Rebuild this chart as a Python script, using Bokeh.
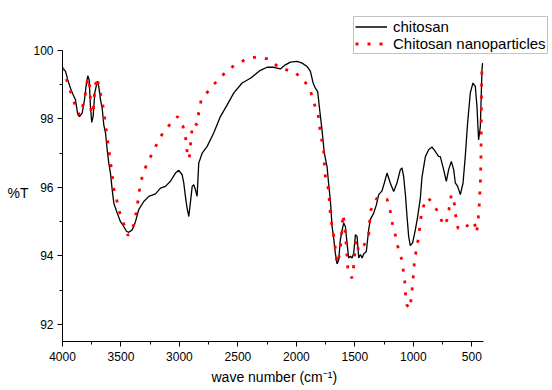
from bokeh.plotting import figure
from bokeh.models import Range1d, FixedTicker, Legend, LegendItem, ColumnDataSource, Title
from bokeh.embed import file_html
from bokeh.resources import INLINE

# chitosan (black solid)
chi_wn = [4000, 3974, 3955, 3932, 3909, 3889, 3869, 3855, 3832, 3812, 3795, 3784, 3772, 3761,
          3750, 3738, 3724, 3703, 3690, 3675, 3661, 3647, 3632, 3618, 3604, 3590, 3575, 3561,
          3532, 3504, 3476, 3453, 3433, 3404, 3376, 3348, 3305, 3262, 3205, 3162, 3120, 3077,
          3034, 3006, 2977, 2963, 2949, 2935, 2920, 2905, 2891, 2878, 2863, 2849, 2835, 2806,
          2763, 2707, 2650, 2592, 2535, 2464, 2393, 2308, 2250, 2194, 2137, 2094, 2051, 1994,
          1951, 1908, 1880, 1857, 1838, 1818, 1801, 1781, 1761, 1738, 1724, 1709, 1695, 1681,
          1667, 1652, 1638, 1624, 1609, 1595, 1581, 1567, 1553, 1538, 1524, 1510, 1495, 1481,
          1467, 1453, 1438, 1424, 1402, 1382, 1368, 1339, 1316, 1296, 1268, 1248, 1225, 1197,
          1168, 1140, 1111, 1097, 1083, 1068, 1054, 1040, 1026, 1006, 983, 963, 940, 926, 897,
          869, 840, 812, 783, 769, 741, 718, 698, 675, 655, 641, 621, 598, 575, 556, 536, 513,
          490, 470, 456, 442, 427, 413, 408]
chi_t = [99.49, 99.39, 99.14, 98.90, 98.71, 98.56, 98.12, 98.07, 98.17, 98.56, 99.05, 99.26, 99.14, 98.37,
         97.90, 98.07, 98.76, 99.10, 98.95, 98.56, 98.32, 97.83, 97.59, 97.10, 96.71, 96.42, 95.93, 95.54,
         95.25, 95.00, 94.86, 94.72, 94.69, 94.76, 95.00, 95.35, 95.59, 95.74, 95.81, 95.98, 96.03, 96.18,
         96.42, 96.50, 96.37, 96.13, 95.74, 95.40, 95.15, 95.60, 96.03, 96.08, 95.93, 95.74, 96.71, 97.00,
         97.20, 97.59, 98.07, 98.41, 98.76, 99.05, 99.19, 99.42, 99.51, 99.51, 99.46, 99.58, 99.66, 99.68,
         99.63, 99.53, 99.39, 99.05, 98.90, 98.80, 98.27, 97.68, 97.00, 96.61, 96.10, 95.60, 94.86, 94.52,
         94.08, 93.77, 93.89, 94.47, 94.76, 94.96, 94.86, 94.38, 93.94, 93.99, 93.94, 94.08, 94.62, 94.57,
         93.94, 94.04, 93.94, 94.06, 94.13, 94.76, 95.06, 95.25, 95.49, 95.79, 95.90, 96.13, 96.42, 96.13,
         95.88, 96.13, 96.52, 96.57, 96.32, 95.80, 95.15, 94.57, 94.30, 94.38, 94.76, 95.15, 95.69, 96.30, 96.90,
         97.10, 97.18, 97.05, 96.90, 96.90, 96.52, 96.18, 96.52, 96.76, 96.52, 96.13, 96.03, 95.79, 96.13, 96.90, 97.88, 98.76,
         99.05, 98.95, 98.37, 97.39, 97.78, 99.44, 99.63]

# chitosan nanoparticles (red dotted)
nano_wn = [4000, 3974, 3938, 3903, 3869, 3850, 3823, 3803, 3784, 3766, 3755, 3738, 3724, 3703,
           3687, 3661, 3647, 3632, 3618, 3604, 3590, 3575, 3567, 3538, 3513, 3476, 3439, 3390,
           3370, 3353, 3338, 3316, 3276, 3219, 3171, 3100, 3015, 2969, 2946, 2934, 2917, 2906,
           2900, 2878, 2849, 2835, 2815, 2735, 2644, 2545, 2430, 2342, 2237, 2137, 2023, 1938,
           1880, 1852, 1815, 1803, 1786, 1767, 1761, 1752, 1724, 1718, 1709, 1695, 1675, 1664,
           1652, 1624, 1618, 1600, 1581, 1572, 1558, 1524, 1510, 1490, 1467, 1447, 1419, 1382,
           1374, 1362, 1311, 1276, 1225, 1197, 1179, 1151, 1128, 1094, 1083, 1074, 1068, 1057,
           1028, 1017, 1006, 997, 989, 969, 952, 940, 926, 880, 844, 784, 741, 707, 692, 675,
           650, 638, 618, 570, 527, 479, 459, 447, 438, 433, 427, 422, 420, 418, 416, 414]
nano_t = [99.50, 99.24, 98.87, 98.51, 98.19, 98.10, 98.43, 98.76, 99.20, 98.93, 98.15, 98.19, 98.90, 99.22,
          98.87, 98.56, 98.19, 97.83, 97.47, 97.10, 96.76, 96.37, 96.03, 95.66, 95.28, 94.93, 94.59, 94.91,
          95.27, 95.64, 96.01, 96.35, 96.71, 97.08, 97.44, 97.77, 98.07, 97.78, 97.41, 97.03, 96.83, 97.20,
          97.54, 97.88, 97.83, 98.19, 98.54, 98.90, 99.24, 99.53, 99.75, 99.81, 99.75, 99.47, 99.39, 99.14,
          98.83, 98.48, 98.17, 97.80, 97.44, 97.07, 96.71, 96.29, 95.93, 95.57, 95.22, 94.86, 94.47, 94.13,
          93.77, 94.13, 94.49, 95.22, 94.62, 94.23, 93.52, 93.35, 93.71, 94.47, 94.13, 94.23, 94.33, 94.62,
          94.98, 95.35, 95.69, 95.66, 95.66, 95.30, 94.94, 94.57, 94.20, 93.84, 93.48, 93.28, 92.93, 92.57,
          92.46, 92.82, 93.16, 93.55, 93.91, 94.26, 94.64, 94.99, 95.35, 95.70, 95.59, 95.25, 94.88, 95.08, 95.43, 95.79,
          95.54, 95.17, 94.81, 94.76, 94.93, 95.00, 94.67, 95.01, 95.38, 95.74, 96.08, 96.81, 97.54, 98.27, 99.00, 99.40]

x_major = [4000, 3500, 3000, 2500, 2000, 1500, 1000, 500]
x_minor = [3750, 3250, 2750, 2250, 1750, 1250, 750]
y_major = [92, 94, 96, 98, 100]
y_minor = [93, 95, 97, 99]
x_axis_span = (400, 4000)
y_axis_span = (91.5, 100)

FONT = "Liberation Sans"

# frame covers the full right/top area so the legend can sit above the axes;
# the visible axes are limited with bounds to 4000..400 and 91.5..100
p = figure(width=552, height=390, output_backend="svg", toolbar_location=None,
           x_range=Range1d(4000, -190), y_range=Range1d(91.5, 101.46),
           min_border_left=62, min_border_right=0, min_border_top=0, min_border_bottom=49)
p.title.visible = False
p.outline_line_color = None
p.xgrid.visible = False
p.ygrid.visible = False
p.background_fill_color = "white"
p.border_fill_color = "white"

src1 = ColumnDataSource(dict(x=chi_wn, y=chi_t))
src2 = ColumnDataSource(dict(x=nano_wn, y=nano_t))
r1 = p.line("x", "y", source=src1, line_color="black", line_width=1.3)
r2 = p.line("x", "y", source=src2, line_color="#ff0000", line_width=2.8, line_dash="3 9")

for ax in (p.xaxis[0], p.yaxis[0]):
    ax.axis_line_color = "black"
    ax.axis_line_width = 1
    ax.major_tick_in = 0
    ax.major_tick_out = 5
    ax.minor_tick_in = 0
    ax.minor_tick_out = 3
    ax.major_tick_line_color = "black"
    ax.minor_tick_line_color = "black"
    ax.major_label_text_font = FONT
    ax.major_label_text_font_size = "12px"
    ax.major_label_text_color = "black"
    ax.axis_label_text_font = FONT
    ax.axis_label_text_font_size = "14px"
    ax.axis_label_text_font_style = "normal"
    ax.axis_label_text_color = "black"

p.xaxis[0].bounds = x_axis_span
p.yaxis[0].bounds = y_axis_span
p.xaxis[0].ticker = FixedTicker(ticks=x_major, minor_ticks=x_minor)
p.yaxis[0].ticker = FixedTicker(ticks=y_major, minor_ticks=y_minor)
p.xaxis[0].major_label_standoff = 5
p.yaxis[0].major_label_standoff = 4

# y label: horizontal, pushed down to the middle of the visible axis
p.yaxis[0].axis_label = "\n%T"
p.yaxis[0].axis_label_text_line_height = 2.8
p.yaxis[0].axis_label_orientation = "horizontal"
p.yaxis[0].axis_label_standoff = 2

# x label as a title below the axis, centred under the visible axis
xlab = Title(text="wave number (cm\u207b\u00b9)", align="left", offset=149,
             text_font=FONT, text_font_size="14px", text_font_style="normal",
             text_color="black", standoff=7)
p.add_layout(xlab, "below")

legend = Legend(items=[LegendItem(label="chitosan", renderers=[r1]),
                       LegendItem(label="Chitosan nanoparticles", renderers=[r2])],
                location=(291, 287))
legend.label_text_font = FONT
legend.label_text_font_size = "15px"
legend.label_text_color = "black"
legend.glyph_width = 32
legend.glyph_height = 17
legend.label_height = 17
legend.label_standoff = 6
legend.spacing = 0
legend.padding = 1
legend.margin = 0
legend.border_line_color = "#888888"
legend.border_line_width = 1
legend.background_fill_color = "white"
legend.background_fill_alpha = 1
p.add_layout(legend, "center")

open("out.html", "w").write(file_html(p, INLINE))
